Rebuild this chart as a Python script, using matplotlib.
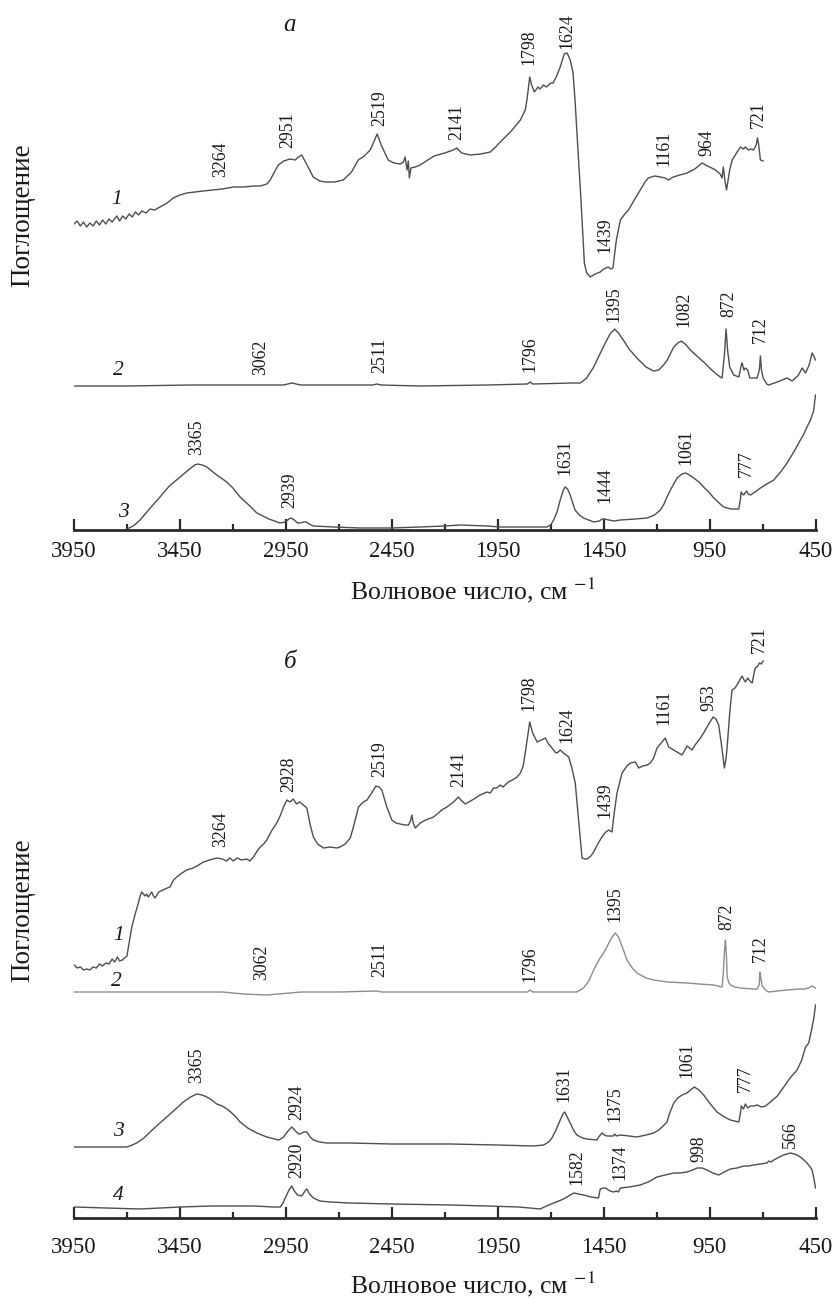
import matplotlib
matplotlib.use("Agg")
import matplotlib.pyplot as plt

plt.rcParams["font.family"] = ["Liberation Serif", "DejaVu Serif"]
plt.rcParams["mathtext.fontset"] = "stix"

DARK = "#4e4e4e"
LIGHT = "#8c8c8c"
TXT = "#1a1a1a"

MAJOR = [3950, 3450, 2950, 2450, 1950, 1450, 950, 450]
MINOR = [3700, 3200, 2700, 2200, 1700, 1200, 700]

# ---------------------------------------------------------------- panel a spectra
a1 = [(3950, 306), (3935, 309), (3920, 304), (3905, 308), (3890, 303), (3875, 307), (3860, 304),
      (3845, 309), (3830, 305), (3815, 310), (3800, 306), (3785, 311), (3770, 308), (3748, 314),
      (3735, 309), (3720, 314), (3705, 311), (3690, 316), (3675, 313), (3660, 318), (3645, 315),
      (3630, 319), (3610, 317), (3590, 321), (3570, 320), (3544, 323), (3510, 327), (3482, 332),
      (3450, 335), (3418, 337), (3380, 338), (3340, 339), (3293, 340), (3250, 341), (3198, 343),
      (3150, 343), (3100, 344), (3071, 344), (3040, 346), (3024, 350), (2986, 365), (2960, 369),
      (2930, 371), (2906, 370), (2890, 373), (2875, 375), (2850, 365), (2821, 353), (2790, 349),
      (2764, 348), (2720, 348), (2679, 350), (2640, 358), (2608, 370), (2580, 374), (2552, 380),
      (2535, 388), (2519, 396), (2500, 385), (2467, 370), (2440, 367), (2410, 366), (2395, 368),
      (2387, 373), (2378, 360), (2372, 369), (2367, 352), (2360, 362), (2340, 363), (2316, 365),
      (2280, 370), (2250, 374), (2200, 377), (2160, 380), (2143, 382), (2120, 377), (2080, 375),
      (2030, 376), (1985, 378), (1960, 383), (1938, 388), (1890, 398), (1843, 410), (1820, 420),
      (1812, 430), (1799, 453), (1790, 445), (1777, 438), (1760, 443), (1750, 441), (1735, 445),
      (1720, 443), (1700, 447), (1688, 447), (1670, 455), (1655, 463), (1636, 476), (1622, 477),
      (1608, 470), (1595, 458), (1585, 430), (1576, 397), (1557, 330), (1541, 267), (1530, 257),
      (1513, 253), (1490, 256), (1466, 258), (1450, 261), (1428, 263), (1415, 261), (1406, 262),
      (1390, 290), (1371, 310), (1350, 316), (1333, 320), (1300, 332), (1277, 340), (1255, 348),
      (1239, 352), (1210, 354), (1182, 353), (1160, 352), (1144, 350), (1121, 353), (1090, 355),
      (1056, 357), (1020, 361), (985, 367), (960, 364), (940, 362), (922, 360), (900, 356),
      (891, 352), (885, 363), (878, 350), (870, 340), (855, 360), (843, 370), (820, 378),
      (804, 383), (790, 381), (781, 383), (766, 380), (755, 381), (743, 380), (730, 385),
      (724, 392), (718, 385), (710, 370), (697, 369)]
a2 = [(3950, 144), (3700, 144), (3400, 145), (3100, 145), (2960, 145), (2922, 147), (2880, 145),
      (2700, 145), (2540, 145), (2520, 146), (2500, 145), (2316, 144), (2000, 145), (1810, 146),
      (1796, 148), (1785, 146), (1600, 147), (1560, 147), (1530, 152), (1497, 163), (1470, 175),
      (1442, 187), (1420, 196), (1398, 201), (1380, 197), (1357, 190), (1330, 181), (1293, 172),
      (1250, 163), (1214, 159), (1190, 160), (1167, 165), (1150, 170), (1119, 183), (1100, 187),
      (1083, 189), (1060, 185), (1041, 180), (1010, 174), (978, 168), (940, 160), (900, 153),
      (891, 152), (880, 175), (872, 201), (865, 180), (855, 163), (836, 155), (812, 153),
      (800, 165), (796, 167), (788, 160), (781, 162), (770, 160), (760, 152), (749, 152),
      (726, 152), (715, 160), (710, 174), (705, 160), (697, 152), (680, 146), (671, 145),
      (630, 148), (585, 152), (560, 149), (530, 155), (513, 162), (497, 157), (480, 165),
      (466, 177), (458, 174), (450, 170)]
a3 = [(3701, 1), (3670, 4), (3638, 10), (3590, 22), (3544, 33), (3500, 44), (3449, 53), (3410, 60),
      (3380, 65), (3366, 66), (3345, 65), (3323, 63), (3276, 55), (3229, 48), (3200, 42),
      (3166, 33), (3120, 24), (3087, 17), (3030, 11), (2977, 7), (2953, 8), (2935, 11), (2925, 12),
      (2910, 10), (2895, 7), (2883, 7), (2865, 8), (2854, 8), (2840, 6), (2820, 4), (2725, 3),
      (2600, 2), (2450, 2), (2316, 3), (2200, 4), (2127, 5), (2000, 4), (1938, 3), (1800, 3),
      (1718, 3), (1700, 5), (1686, 10), (1670, 18), (1655, 30), (1640, 40), (1632, 43), (1620, 41),
      (1608, 35), (1585, 20), (1565, 15), (1545, 12), (1497, 8), (1470, 9), (1458, 11), (1445, 11),
      (1426, 10), (1400, 9), (1371, 10), (1300, 11), (1245, 12), (1210, 15), (1182, 20),
      (1165, 26), (1151, 33), (1130, 42), (1103, 52), (1080, 56), (1064, 57), (1045, 55),
      (1025, 52), (1000, 48), (978, 43), (950, 37), (930, 32), (900, 26), (883, 23), (850, 21),
      (812, 21), (805, 30), (801, 38), (795, 36), (789, 35), (782, 37), (776, 39), (767, 36),
      (757, 35), (735, 38), (710, 42), (680, 46), (647, 50), (615, 58), (584, 67), (550, 79),
      (521, 90), (505, 96), (490, 103), (474, 110), (462, 117), (458, 120), (454, 128), (450, 135)]

# ---------------------------------------------------------------- panel b spectra
b1 = [(3950, 253), (3935, 250), (3920, 251), (3905, 248), (3890, 249), (3875, 248), (3860, 251),
      (3845, 250), (3830, 254), (3815, 252), (3800, 255), (3785, 254), (3770, 259), (3758, 256),
      (3745, 261), (3735, 257), (3722, 258), (3700, 262), (3690, 275), (3677, 291), (3660, 305),
      (3646, 315), (3638, 322), (3630, 326), (3615, 322), (3607, 324), (3599, 321), (3583, 326),
      (3575, 322), (3567, 320), (3550, 326), (3530, 328), (3510, 330), (3497, 331), (3480, 338),
      (3465, 341), (3440, 345), (3418, 348), (3387, 350), (3370, 352), (3339, 356), (3310, 358),
      (3276, 360), (3250, 359), (3230, 357), (3215, 360), (3198, 357), (3180, 360), (3160, 358),
      (3134, 359), (3120, 357),
      (3103, 361), (3085, 367), (3071, 371), (3055, 374), (3040, 378), (3015, 388), (2993, 395),
      (2975, 403), (2961, 411), (2945, 418), (2930, 416), (2915, 419), (2900, 414), (2885, 416),
      (2867, 413), (2851, 410), (2835, 393), (2820, 381), (2800, 374), (2772, 370), (2740, 371),
      (2710, 370), (2694, 371), (2670, 374), (2646, 380), (2630, 392), (2607, 411), (2585, 416),
      (2567, 418), (2545, 425), (2525, 432), (2510, 431), (2497, 428), (2475, 412), (2450, 398),
      (2430, 395), (2410, 394), (2390, 393), (2371, 393), (2362, 397), (2355, 403), (2349, 395),
      (2339, 390), (2325, 393), (2316, 395), (2290, 398), (2253, 401), (2230, 405), (2214, 408),
      (2190, 411), (2159, 416), (2135, 421), (2120, 417), (2103, 414), (2070, 418), (2033, 423),
      (2000, 426), (1985, 425), (1970, 430), (1955, 430), (1938, 433), (1925, 431), (1900, 436),
      (1880, 438), (1859, 441), (1843, 445), (1830, 452), (1820, 465), (1810, 480), (1799, 496),
      (1785, 485), (1764, 476), (1745, 478), (1725, 480), (1710, 474), (1694, 470), (1680, 466),
      (1670, 465), (1655, 468), (1640, 465), (1615, 461), (1600, 450), (1584, 435), (1568, 398),
      (1552, 360), (1540, 359), (1529, 359), (1510, 362), (1497, 366), (1478, 374), (1458, 381),
      (1440, 386), (1426, 388), (1411, 386), (1400, 405), (1387, 425), (1363, 445), (1340, 452),
      (1324, 455), (1300, 456), (1285, 450), (1265, 452), (1245, 453), (1230, 455), (1214, 460),
      (1198, 470), (1175, 476), (1159, 480), (1143, 471), (1120, 468), (1104, 466), (1080, 463),
      (1056, 472), (1045, 470), (1033, 468), (1015, 474), (993, 480), (975, 486), (962, 491),
      (945, 497), (933, 501), (920, 499), (907, 493), (895, 475), (880, 450), (872, 460),
      (867, 471), (855, 505), (844, 528), (830, 530), (815, 535), (797, 542), (787, 538),
      (781, 536), (770, 540), (760, 537), (749, 535), (740, 545), (734, 550), (722, 552),
      (715, 555), (706, 554), (697, 557)]
b2 = [(3950, 226), (3500, 226), (3250, 226), (3150, 224), (3040, 223), (2990, 224),
      (2930, 225), (2880, 226), (2700, 226), (2520, 227), (2500, 226), (2316, 226), (2000, 226),
      (1810, 226), (1796, 228), (1785, 226), (1600, 226), (1576, 226), (1545, 230), (1520, 237),
      (1497, 248), (1470, 259), (1450, 265), (1425, 275), (1410, 281), (1395, 285), (1380, 281),
      (1360, 270), (1340, 258), (1315, 250), (1293, 245), (1250, 240), (1214, 238), (1150, 236),
      (1057, 235), (1000, 234), (930, 233), (891, 231), (885, 245), (879, 270), (875, 278),
      (870, 260), (867, 241), (860, 236), (852, 233), (830, 231), (804, 230), (742, 229),
      (725, 229), (716, 233), (712, 246), (708, 240), (702, 232), (694, 230), (680, 227),
      (671, 226), (630, 227), (585, 228), (530, 229), (500, 229), (483, 230), (468, 232),
      (458, 231), (450, 230)]
b3 = [(3950, 71), (3800, 71), (3701, 71), (3675, 73), (3654, 75), (3620, 80), (3591, 86), (3550, 94),
      (3512, 101), (3470, 109), (3434, 116), (3400, 121), (3370, 124), (3345, 123), (3323, 121),
      (3300, 118), (3276, 114), (3250, 112), (3221, 108), (3190, 102), (3166, 96), (3130, 90),
      (3087, 85), (3040, 81), (2985, 78), (2975, 79), (2961, 81), (2940, 87), (2922, 91),
      (2905, 87), (2890, 84), (2883, 84), (2865, 86), (2851, 86), (2835, 81), (2820, 78),
      (2790, 76), (2757, 75), (2650, 75), (2450, 74), (2174, 74), (1950, 73), (1782, 72),
      (1733, 73), (1710, 76), (1694, 80), (1675, 88), (1655, 98), (1642, 104),
      (1634, 106), (1622, 101), (1608, 95), (1590, 87), (1576, 83), (1550, 80), (1529, 79),
      (1482, 78), (1470, 82), (1458, 85), (1445, 83), (1435, 82), (1405, 82), (1398, 84),
      (1390, 82), (1371, 83), (1330, 82), (1293, 81), (1250, 83), (1214, 85), (1190, 88),
      (1174, 91), (1160, 94), (1151, 96), (1140, 104), (1119, 115), (1100, 120), (1080, 123),
      (1057, 125), (1040, 128), (1022, 131), (1000, 128), (978, 123), (950, 115), (915, 106),
      (880, 101), (852, 98), (812, 96), (805, 104), (800, 112), (797, 111), (790, 109),
      (781, 114), (770, 110), (757, 112), (740, 112), (726, 113), (705, 111), (686, 112),
      (663, 116), (630, 122), (600, 131), (570, 140), (537, 148), (515, 158), (497, 171),
      (482, 175), (474, 183), (466, 191), (458, 200), (450, 213)]
b4 = [(3950, 11), (3800, 10), (3638, 9), (3449, 11), (3300, 12), (3198, 12), (3100, 12), (3009, 11),
      (2977, 11), (2963, 15), (2953, 20), (2935, 28), (2922, 32), (2910, 27), (2895, 23),
      (2875, 22), (2860, 27), (2851, 29), (2838, 24), (2820, 20), (2790, 17), (2740, 16),
      (2650, 15), (2450, 14), (2174, 13), (2000, 12), (1850, 11),
      (1749, 9), (1720, 12), (1686, 15), (1650, 18), (1623, 21), (1600, 24), (1588, 25),
      (1570, 24), (1545, 23), (1510, 21), (1474, 20), (1470, 25), (1466, 29), (1450, 30),
      (1442, 30), (1420, 27), (1403, 26), (1390, 27), (1380, 26), (1371, 30), (1330, 31),
      (1277, 33), (1240, 36), (1198, 41), (1160, 43), (1119, 45), (1090, 45), (1057, 46),
      (1030, 48), (1009, 50), (985, 50), (962, 48), (935, 45), (907, 43), (880, 46), (852, 49),
      (820, 50), (789, 52), (765, 52), (742, 53), (710, 54), (679, 55), (670, 57), (660, 56),
      (647, 58), (620, 61), (600, 63), (585, 64), (568, 65), (550, 64), (537, 63), (515, 60),
      (490, 55), (475, 51), (466, 48), (458, 40), (450, 30)]

# peak labels: (text, wavenumber, height of label foot)
a_peaks = [("3264", 3260, 353), ("2951", 2943, 382), ("2519", 2509, 404), ("2141", 2143, 390),
           ("1798", 1804, 465), ("1624", 1623, 481), ("1439", 1442, 277), ("1161", 1167, 364),
           ("964", 965, 374), ("721", 718, 402),
           ("3062", 3071, 155), ("2511", 2505, 157), ("1796", 1796, 158), ("1395", 1403, 208),
           ("1082", 1072, 203), ("872", 860, 213), ("712", 710, 187),
           ("3365", 3370, 75), ("2939", 2930, 22), ("1631", 1632, 55), ("1444", 1445, 27),
           ("1061", 1064, 65), ("777", 776, 53)]
b_peaks = [("3264", 3260, 371), ("2928", 2938, 426), ("2519", 2509, 441), ("2141", 2135, 431),
           ("1798", 1804, 507), ("1624", 1623, 475), ("1439", 1442, 400), ("1161", 1167, 493),
           ("953", 954, 507), ("721", 715, 565),
           ("3062", 3063, 238), ("2511", 2505, 241), ("1796", 1796, 236), ("1395", 1395, 296),
           ("872", 867, 288), ("712", 710, 256),
           ("3365", 3370, 135), ("2924", 2898, 98), ("1631", 1639, 116), ("1375", 1398, 96),
           ("1061", 1057, 140), ("777", 781, 126),
           ("2920", 2898, 40), ("1582", 1576, 33), ("1374", 1375, 38), ("998", 1001, 56),
           ("566", 568, 70)]

# curve numbers
a_nums = [("1", 3747, 330), ("2", 3740, 159), ("3", 3717, 17)]
b_nums = [("1", 3740, 283), ("2", 3748, 236), ("3", 3740, 86), ("4", 3740, 23)]

W, H = 839, 1299
fig = plt.figure(figsize=(W / 100, H / 100), dpi=100)


def panel(bottom_px, top_px, curves, peaks, nums, letter, pad):
    ax = fig.add_axes([74 / W, 1 - bottom_px / H, 741.5 / W, (bottom_px - top_px) / H])
    for pts, col in curves:
        ax.plot([p[0] for p in pts], [p[1] for p in pts], color=col, lw=1.0)
    ax.set_xlim(3950, 450)
    ax.set_ylim(0, bottom_px - top_px)
    for s in ("top", "left", "right"):
        ax.spines[s].set_visible(False)
    ax.spines["bottom"].set_linewidth(2.0)
    ax.spines["bottom"].set_color("#2a2a2a")
    ax.set_yticks([])
    ax.set_xticks(MAJOR)
    ax.set_xticks(MINOR, minor=True)
    ax.tick_params(axis="x", which="major", direction="in", length=8, width=1.6,
                   color="#2a2a2a", labelsize=16.5, labelcolor=TXT, pad=pad)
    ax.tick_params(axis="x", which="minor", direction="in", length=4, width=1.6,
                   color="#2a2a2a")
    for t, x, y in peaks:
        ax.text(x, y, t, rotation=90, ha="center", va="bottom", fontsize=12.8, color=TXT)
    for t, x, y in nums:
        ax.text(x, y, t, ha="center", va="center", fontsize=15.5, style="italic", color=TXT)
    ax.text(2931, (bottom_px - top_px) - letter[1], letter[0], ha="center", va="center",
            fontsize=18, style="italic", color=TXT)
    return ax


panel(530, 10, [(a1, DARK), (a2, DARK), (a3, DARK)], a_peaks, a_nums, ("а", 15), 8)
panel(1218, 640, [(b1, DARK), (b2, LIGHT), (b3, DARK), (b4, DARK)], b_peaks, b_nums,
      ("б", 22), 14)

xlab = "Волновое число, см $^{-1}$"
fig.text(473 / W, 1 - 599 / H, xlab, ha="center", va="baseline", fontsize=18.5, color=TXT)
fig.text(473 / W, 1 - 1293 / H, xlab, ha="center", va="baseline", fontsize=18.5, color=TXT)
fig.text(23 / W, 1 - 215 / H, "Поглощение", rotation=90, ha="center", va="center",
         fontsize=19.5, color=TXT)
fig.text(23 / W, 1 - 910 / H, "Поглощение", rotation=90, ha="center", va="center",
         fontsize=19.5, color=TXT)

fig.savefig("out.png", dpi=100)
